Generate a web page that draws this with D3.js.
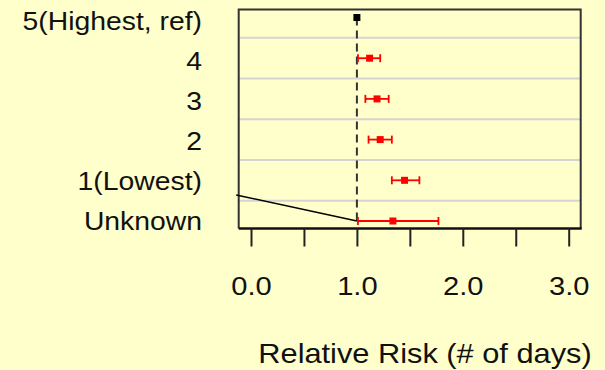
<!DOCTYPE html>
<html>
<head>
<meta charset="utf-8">
<script src="https://cdn.jsdelivr.net/npm/d3@7"></script>
<style>
  html, body { margin: 0; padding: 0; background: #ffffcc; }
  svg { display: block; font-family: "Liberation Sans", Arial, sans-serif; }
</style>
</head>
<body>
<svg id="chart" width="605" height="370"></svg>
<script>
// Relative risk by group, with 95% confidence intervals
const categories = ["5(Highest, ref)", "4", "3", "2", "1(Lowest)", "Unknown"];
const estimates  = [1.00, 1.12, 1.19, 1.22, 1.45, 1.34];
const lowerCI    = [null, 1.01, 1.08, 1.11, 1.33, 1.01];
const upperCI    = [null, 1.22, 1.30, 1.33, 1.59, 1.77];
const isReference = [true, false, false, false, false, false];
const xTickValues = [0, 0.5, 1, 1.5, 2, 2.5, 3];
const xTickLabels = ["0.0", "", "1.0", "", "2.0", "", "3.0"];
const refValue = 1.0;
// stray segment running into the Unknown row (value, row index)
const connectorX   = [-0.14, 1.0];
const connectorRow = [4.36, 5.0];
const axisTitle = "Relative Risk (# of days)";

const svg = d3.select("#chart");
const W = 605, H = 370;
svg.append("rect").attr("width", W).attr("height", H).attr("fill", "#ffffcc");

const box = { left: 238.7, right: 580.7, top: 9.5, bottom: 228.5 };

const x = d3.scaleLinear().domain([0, 3]).range([251, 568.7]);
const y = d3.scaleLinear().domain([0, 5]).range([17.5, 221]);
const labelY = d3.scalePoint().domain(categories).range([21.5, 221.5]);

// gridlines between rows
svg.append("g").selectAll("line")
  .data(d3.range(categories.length - 1))
  .join("line")
  .attr("x1", box.left).attr("x2", box.right)
  .attr("y1", d => y(d + 0.5)).attr("y2", d => y(d + 0.5))
  .attr("stroke", "#d4d4d4").attr("stroke-width", 2);

// plot frame
svg.append("path")
  .attr("d", `M${box.left},${box.bottom}V${box.top}H${box.right}V${box.bottom}`)
  .attr("fill", "none").attr("stroke", "#333").attr("stroke-width", 2);
svg.append("line")
  .attr("x1", box.left).attr("x2", box.right + 1)
  .attr("y1", box.bottom).attr("y2", box.bottom)
  .attr("stroke", "#111").attr("stroke-width", 2.5);

// reference line at RR = 1
svg.append("line")
  .attr("x1", x(refValue)).attr("x2", x(refValue))
  .attr("y1", y(0)).attr("y2", y(5))
  .attr("stroke", "#333").attr("stroke-width", 2)
  .attr("stroke-dasharray", "8,5");

// connector segment
svg.append("path")
  .attr("d", d3.line()(connectorX.map((v, i) => [x(v), y(connectorRow[i])])))
  .attr("stroke", "#000").attr("stroke-width", 1.5).attr("fill", "none");

// confidence intervals
const rows = categories.map((c, i) => ({
  i, c, est: estimates[i], lo: lowerCI[i], hi: upperCI[i], ref: isReference[i]
}));
const ci = svg.append("g").selectAll("g")
  .data(rows.filter(d => d.lo != null))
  .join("g")
  .attr("stroke", "#ff0000").attr("stroke-width", 1.8);
ci.append("line")
  .attr("x1", d => x(d.lo)).attr("x2", d => x(d.hi))
  .attr("y1", d => y(d.i)).attr("y2", d => y(d.i));
ci.append("line")
  .attr("x1", d => x(d.lo)).attr("x2", d => x(d.lo))
  .attr("y1", d => y(d.i) - 4).attr("y2", d => y(d.i) + 4);
ci.append("line")
  .attr("x1", d => x(d.hi)).attr("x2", d => x(d.hi))
  .attr("y1", d => y(d.i) - 4).attr("y2", d => y(d.i) + 4);

// point estimates
const s = 7;
svg.append("g").selectAll("rect")
  .data(rows)
  .join("rect")
  .attr("x", d => x(d.est) - s / 2).attr("y", d => y(d.i) - s / 2)
  .attr("width", s).attr("height", s)
  .attr("fill", d => d.ref ? "#000" : "#ff0000");

// x axis
const xAxis = svg.append("g")
  .attr("transform", `translate(0,${box.bottom})`)
  .call(d3.axisBottom(x).tickValues(xTickValues)
    .tickFormat((d, i) => xTickLabels[i])
    .tickSize(18).tickPadding(30));
xAxis.select(".domain").remove();
xAxis.selectAll(".tick line").attr("stroke", "#222").attr("stroke-width", 2);
xAxis.selectAll(".tick text")
  .attr("fill", "#111").attr("font-size", 26)
  .attr("font-family", "Liberation Sans, Arial, sans-serif")
  .attr("transform", "scale(1.12,1)");

// category labels
const yAxis = svg.append("g")
  .attr("transform", "translate(202,0)")
  .call(d3.axisLeft(labelY).tickSize(0).tickPadding(0));
yAxis.select(".domain").remove();
yAxis.selectAll(".tick text")
  .attr("fill", "#111").attr("font-size", 26)
  .attr("font-family", "Liberation Sans, Arial, sans-serif")
  .attr("transform", "scale(1.09,1)");

// axis title
svg.append("g")
  .attr("transform", "translate(425,363)")
  .append("text")
  .attr("text-anchor", "middle")
  .attr("font-size", 27).attr("fill", "#111")
  .attr("transform", "scale(1.14,1)")
  .text(axisTitle);
</script>
</body>
</html>
